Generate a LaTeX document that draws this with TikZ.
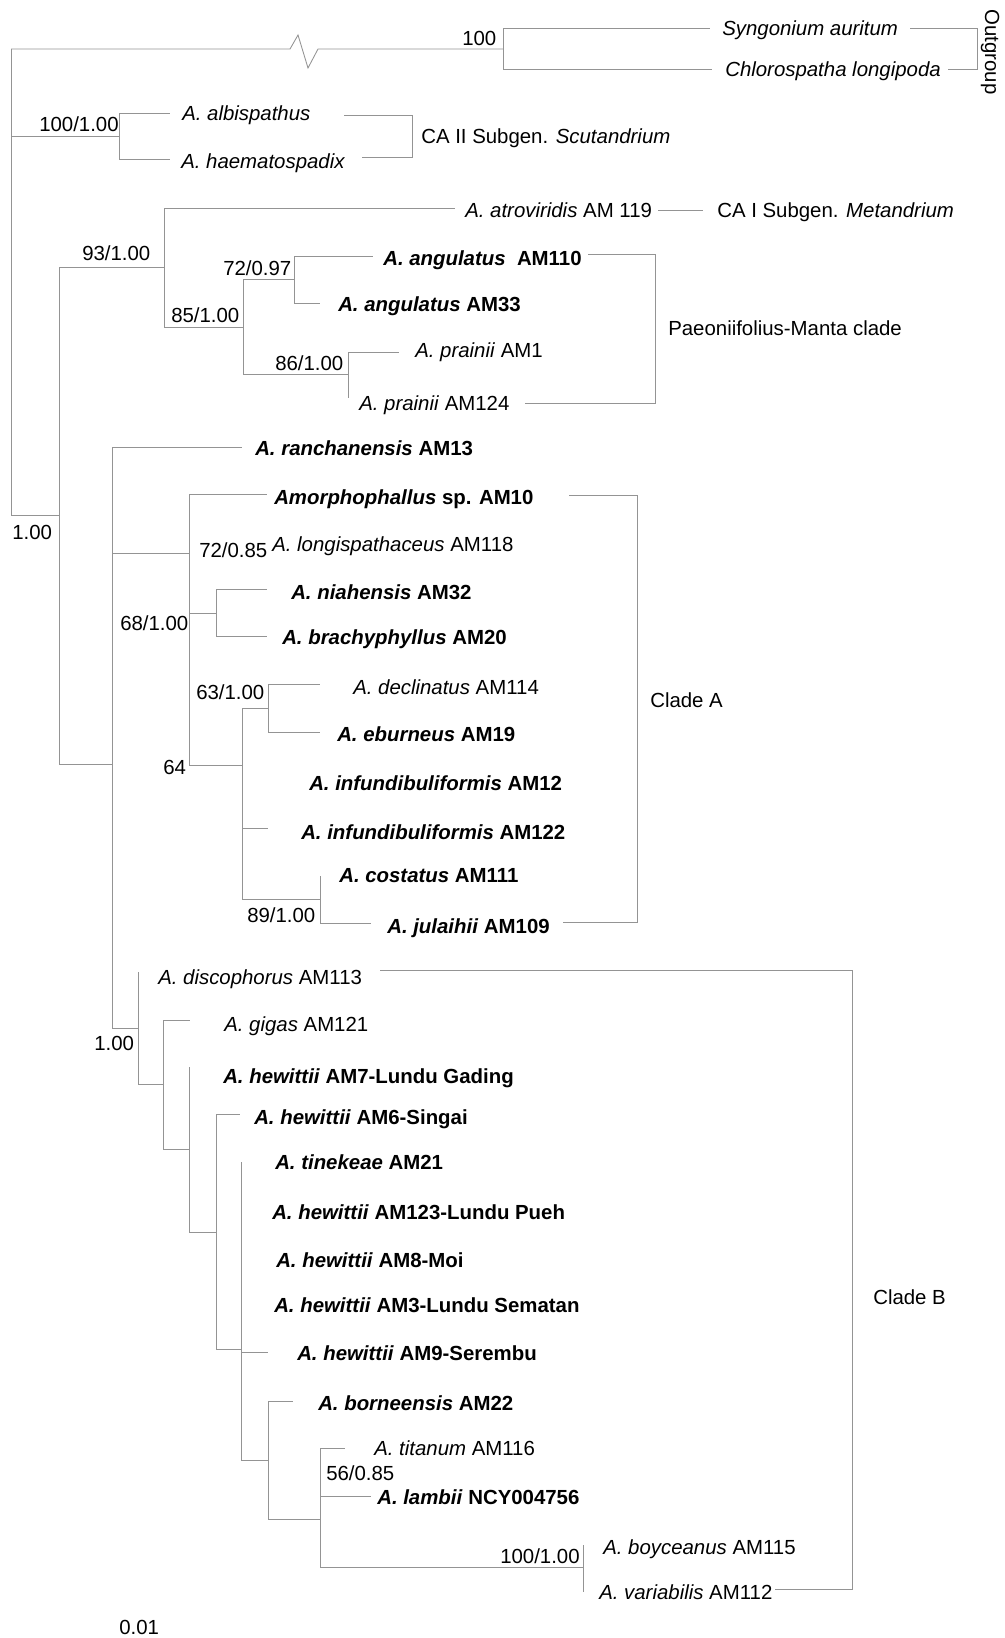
\documentclass[tikz,border=0pt]{standalone}
\usepackage{fontspec}
\setmainfont{Liberation Sans}
\newcommand{\tbi}[1]{\textbf{\textit{#1}}}
\begin{document}
\begin{tikzpicture}[x=0.75pt,y=-0.75pt,
  br/.style={draw=black!42,line width=0.65pt},
  lab/.style={anchor=west,inner sep=0pt,font=\fontsize{15.3}{18}\selectfont,text height=11pt,text depth=0pt},
  sup/.style={lab}]
\useasboundingbox (0,0) rectangle (1004,1638);
% ---- internal nodes
\coordinate (R) at (11,515);
\coordinate (Rtop) at (11,49);
\coordinate (OG) at (503,49);
\coordinate (CAII) at (119,136);
\coordinate (N59) at (59,515);
\coordinate (N93) at (164,267);
\coordinate (N85) at (243,327);
\coordinate (N72) at (294,279);
\coordinate (N86) at (348,374);
\coordinate (N112) at (112,764);
\coordinate (NA) at (189,553);
\coordinate (N68) at (216,613);
\coordinate (N64) at (242,765);
\coordinate (N63) at (268,708);
\coordinate (N89) at (320,899);
\coordinate (NB) at (138,1028);
\coordinate (NB2) at (163,1084);
\coordinate (NB3) at (189,1149);
\coordinate (NB4) at (216,1232);
\coordinate (NB5) at (241,1349);
\coordinate (NB6) at (268,1460);
\coordinate (NB7) at (320,1519);
\coordinate (NB8) at (583,1567);
% ---- tip ends
\coordinate (syn) at (710,28);
\coordinate (chl) at (712,69);
\coordinate (alb) at (170,113);
\coordinate (hae) at (170,159);
\coordinate (atro) at (455,208);
\coordinate (ang1) at (373,256);
\coordinate (ang2) at (320,303);
\coordinate (pr1) at (399,352);
\coordinate (pr2) at (348,398);
\coordinate (ran) at (242,447);
\coordinate (am10) at (267,494);
\coordinate (nia) at (267,589);
\coordinate (bra) at (267,636);
\coordinate (dec) at (320,684);
\coordinate (ebu) at (320,732);
\coordinate (inf2) at (268,828);
\coordinate (cos) at (320,876);
\coordinate (jul) at (371,923);
\coordinate (dis) at (138,972);
\coordinate (gig) at (190,1020);
\coordinate (am7) at (189,1067);
\coordinate (am6) at (240,1114);
\coordinate (tin) at (241,1162);
\coordinate (am9) at (268,1352);
\coordinate (bor) at (293,1401);
\coordinate (tit) at (345,1448);
\coordinate (lam) at (371,1496);
\coordinate (boy) at (583,1545);
\coordinate (var) at (583,1592);
% ---- branches
\draw[br] (Rtop) -- (R);
\draw[br] (Rtop) -- (290,49) -- (298,35) -- (308,68) -- (318,49) -- (OG);
\draw[br] (OG) |- (syn); \draw[br] (OG) |- (chl);
\draw[br] (R |- CAII) -- (CAII);
\draw[br] (CAII) |- (alb); \draw[br] (CAII) |- (hae);
\draw[br] (R) -- (N59);
\draw[br] (N59) |- (N93); \draw[br] (N59) |- (N112);
\draw[br] (N93) |- (atro); \draw[br] (N93) |- (N85);
\draw[br] (N85) |- (N72); \draw[br] (N85) |- (N86);
\draw[br] (N72) |- (ang1); \draw[br] (N72) |- (ang2);
\draw[br] (N86) |- (pr1); \draw[br] (N86) |- (pr2);
\draw[br] (N112) |- (ran); \draw[br] (N112) |- (NA); \draw[br] (N112) |- (NB);
\draw[br] (NA) |- (am10); \draw[br] (NA) |- (N68); \draw[br] (NA) |- (N64);
\draw[br] (N68) |- (nia); \draw[br] (N68) |- (bra);
\draw[br] (N64) |- (N63); \draw[br] (N64) |- (inf2); \draw[br] (N64) |- (N89);
\draw[br] (N63) |- (dec); \draw[br] (N63) |- (ebu);
\draw[br] (N89) |- (cos); \draw[br] (N89) |- (jul);
\draw[br] (NB) |- (dis); \draw[br] (NB) |- (NB2);
\draw[br] (NB2) |- (gig); \draw[br] (NB2) |- (NB3);
\draw[br] (NB3) |- (am7); \draw[br] (NB3) |- (NB4);
\draw[br] (NB4) |- (am6); \draw[br] (NB4) |- (NB5);
\draw[br] (NB5) |- (tin); \draw[br] (NB5) |- (am9); \draw[br] (NB5) |- (NB6);
\draw[br] (NB6) |- (bor); \draw[br] (NB6) |- (NB7);
\draw[br] (NB7) |- (tit); \draw[br] (NB7) |- (lam); \draw[br] (NB7) |- (NB8);
\draw[br] (NB8) |- (boy); \draw[br] (NB8) |- (var);
% ---- brackets
\coordinate (ogA) at (910,28); \coordinate (ogB) at (977,28); \coordinate (ogC) at (948,69);
\draw[br] (ogA) -- (ogB) |- (ogC);
\coordinate (c2A) at (344,115); \coordinate (c2B) at (412,115); \coordinate (c2C) at (362,157);
\draw[br] (c2A) -- (c2B) |- (c2C);
\coordinate (c1A) at (658,210); \coordinate (c1B) at (703,210);
\draw[br] (c1A) -- (c1B);
\coordinate (pmA) at (588,254); \coordinate (pmB) at (655,254); \coordinate (pmC) at (525,403);
\draw[br] (pmA) -- (pmB) |- (pmC);
\coordinate (caA) at (569,495); \coordinate (caB) at (637,495); \coordinate (caC) at (563,922);
\draw[br] (caA) -- (caB) |- (caC);
\coordinate (cbA) at (380,970); \coordinate (cbB) at (852,970); \coordinate (cbC) at (775,1589);
\draw[br] (cbA) -- (cbB) |- (cbC);
% ---- taxon labels
\node[lab] (tsyn) at (722,28) {\textit{Syngonium auritum}};
\node[lab] (tchl) at (725,69) {\textit{Chlorospatha longipoda}};
\node[font=\fontsize{15.3}{18}\selectfont,rotate=-90,inner sep=0pt] (tog) at (990,52) {Outgroup};
\node[lab] (talb) at (182,113) {\textit{A. albispathus}};
\node[lab] (thae) at (181,161) {\textit{A. haematospadix}};
\node[lab] (tc2) at (421,136) {CA II Subgen. \textit{Scutandrium}};
\node[lab] (tatro) at (465,210) {\textit{A. atroviridis} AM 119};
\node[lab] (tc1) at (717,210) {CA I Subgen. \textit{Metandrium}};
\node[lab] (tang1) at (383,258) {\tbi{A. angulatus}\ \ \textbf{AM110}};
\node[lab] (tang2) at (338,304) {\tbi{A. angulatus} \textbf{AM33}};
\node[lab] (tpr1) at (415,350) {\textit{A. prainii} AM1};
\node[lab] (tpr2) at (359,403) {\textit{A. prainii} AM124};
\node[lab] (tpm) at (668,328) {Paeoniifolius-Manta clade};
\node[lab] (tran) at (255,448) {\tbi{A. ranchanensis} \textbf{AM13}};
\node[lab] (tam10) at (274,497) {\tbi{Amorphophallus} \textbf{sp. AM10}};
\node[lab] (tlon) at (272,544) {\textit{A. longispathaceus} AM118};
\node[lab] (tnia) at (291,592) {\tbi{A. niahensis} \textbf{AM32}};
\node[lab] (tbra) at (282,637) {\tbi{A. brachyphyllus} \textbf{AM20}};
\node[lab] (tdec) at (353,687) {\textit{A. declinatus} AM114};
\node[lab] (tebu) at (337,734) {\tbi{A. eburneus} \textbf{AM19}};
\node[lab] (tinf1) at (309,783) {\tbi{A. infundibuliformis} \textbf{AM12}};
\node[lab] (tinf2) at (301,832) {\tbi{A. infundibuliformis} \textbf{AM122}};
\node[lab] (tcos) at (339,875) {\tbi{A. costatus} \textbf{AM111}};
\node[lab] (tjul) at (387,926) {\tbi{A. julaihii} \textbf{AM109}};
\node[lab] (tca) at (650,700) {Clade A};
\node[lab] (tdis) at (158,977) {\textit{A. discophorus} AM113};
\node[lab] (tgig) at (224,1024) {\textit{A. gigas} AM121};
\node[lab] (tam7) at (223,1076) {\tbi{A. hewittii} \textbf{AM7-Lundu Gading}};
\node[lab] (tam6) at (254,1117) {\tbi{A. hewittii} \textbf{AM6-Singai}};
\node[lab] (ttin) at (275,1162) {\tbi{A. tinekeae} \textbf{AM21}};
\node[lab] (tam123) at (272,1212) {\tbi{A. hewittii} \textbf{AM123-Lundu Pueh}};
\node[lab] (tam8) at (276,1260) {\tbi{A. hewittii} \textbf{AM8-Moi}};
\node[lab] (tam3) at (274,1305) {\tbi{A. hewittii} \textbf{AM3-Lundu Sematan}};
\node[lab] (tam9) at (297,1353) {\tbi{A. hewittii} \textbf{AM9-Serembu}};
\node[lab] (tbor) at (318,1403) {\tbi{A. borneensis} \textbf{AM22}};
\node[lab] (ttit) at (374,1448) {\textit{A. titanum} AM116};
\node[lab] (tlam) at (377,1497) {\tbi{A. lambii} \textbf{NCY004756}};
\node[lab] (tboy) at (603,1547) {\textit{A. boyceanus} AM115};
\node[lab] (tvar) at (599,1592) {\textit{A. variabilis} AM112};
\node[lab] (tcb) at (873,1297) {Clade B};
% ---- support values
\node[sup] (s100) at (462,38) {100};
\node[sup] (s100b) at (39,124) {100/1.00};
\node[sup] (s93) at (82,253) {93/1.00};
\node[sup] (s72) at (223,268) {72/0.97};
\node[sup] (s85) at (171,315) {85/1.00};
\node[sup] (s86) at (275,363) {86/1.00};
\node[sup] (sroot) at (12,532) {1.00};
\node[sup] (s72b) at (199,550) {72/0.85};
\node[sup] (s68) at (120,623) {68/1.00};
\node[sup] (s63) at (196,692) {63/1.00};
\node[sup] (s64) at (163,767) {64};
\node[sup] (s89) at (247,915) {89/1.00};
\node[sup] (sB) at (94,1043) {1.00};
\node[sup] (s56) at (326,1473) {56/0.85};
\node[sup] (s100c) at (500,1556) {100/1.00};
\node[sup] (sscale) at (119,1627) {0.01};
\end{tikzpicture}
\end{document}
